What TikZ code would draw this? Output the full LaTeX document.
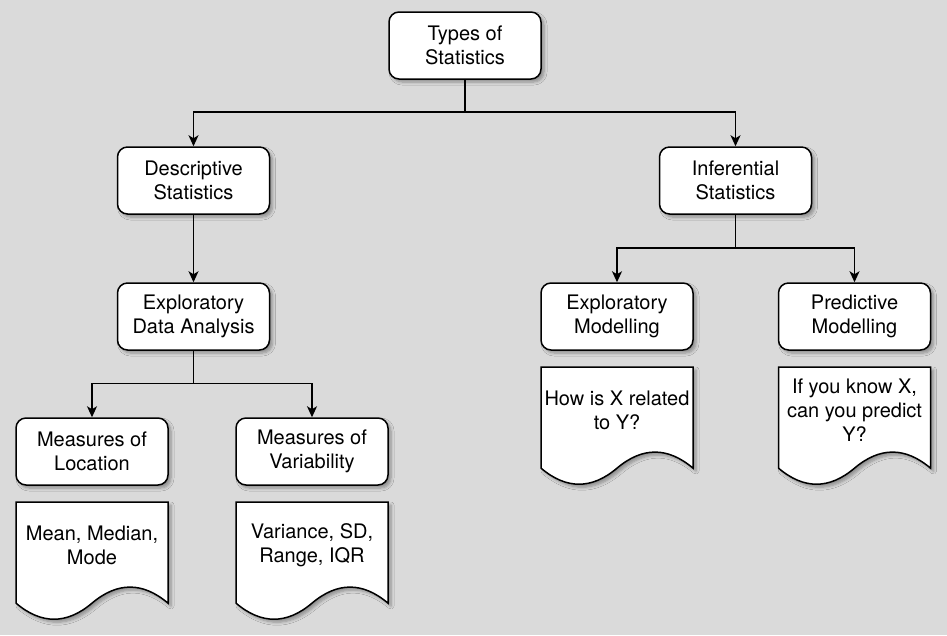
\documentclass[tikz,border=0pt]{standalone}
\usepackage{fontspec}
\setmainfont{TeX Gyre Heros}
\usetikzlibrary{arrows.meta,shadows.blur}
\definecolor{bg}{RGB}{218,218,218}
\tikzset{
  box/.style={draw, line width=1.5pt, rounded corners=10pt, fill=white,
    minimum width=152pt, minimum height=67pt, align=center,
    font=\fontsize{20}{24}\selectfont,
    blur shadow={shadow xshift=3pt, shadow yshift=-3pt, shadow opacity=35, shadow blur steps=6, shadow blur radius=3pt}},
  docpath/.style={draw, line width=1.5pt, fill=white,
    blur shadow={shadow xshift=3pt, shadow yshift=-3pt, shadow opacity=35, shadow blur steps=6, shadow blur radius=3pt}},
  doctext/.style={align=center, font=\fontsize{20}{24}\selectfont, inner sep=0pt},
  conn/.style={line width=1.5pt},
  arr/.style={line width=1.5pt, -{Stealth[length=11pt,width=10pt,inset=3pt]}}
}
\newcommand\docat[4]{%
  \begin{scope}[shift={(#2,#3)}]
    \path[docpath] (0,0) -- (152,0) -- (152,101.15)
      .. controls (126.67,79.73) and (101.33,79.73) .. (76,101.15)
      .. controls (50.67,122.57) and (25.33,122.57) .. (0,101.15) -- cycle;
    \node[doctext] (#1) at (76,43) {#4};
  \end{scope}}
\begin{document}
\begin{tikzpicture}[x=1pt,y=-1pt]
\fill[bg] (0,0) rectangle (947,635);
\useasboundingbox (0,0) rectangle (947,635);

\node[box] (t) at (465,45.5) {Types of\\Statistics};
\node[box] (ds) at (193.5,180.5) {Descriptive\\Statistics};
\node[box] (is) at (735.5,180.5) {Inferential\\Statistics};
\node[box] (eda) at (193.5,316.5) {Exploratory\\Data Analysis};
\node[box] (em) at (617,316.5) {Exploratory\\Modelling};
\node[box] (pm) at (854.5,316.5) {Predictive\\Modelling};
\node[box] (ml) at (92,451.5) {Measures of\\Location};
\node[box] (mv) at (312,451.5) {Measures of\\Variability};

\docat{dml}{16}{502}{Mean, Median,\\Mode}
\docat{dmv}{236}{502}{Variance, SD,\\Range, IQR}
\docat{dem}{541}{367}{How is X related\\to Y?}
\docat{dpm}{778.5}{367}{If you know X,\\can you predict\\Y?}

\coordinate (j1) at (465,112);
\coordinate (j2) at (735.5,248);
\coordinate (j3) at (193.5,383.5);

\draw[conn] (t.south) -- (j1);
\draw[arr] (j1) -| (ds.north);
\draw[arr] (j1) -| (is.north);
\draw[arr] (ds.south) -- (eda.north);
\draw[conn] (is.south) -- (j2);
\draw[arr] (j2) -| (em.north);
\draw[arr] (j2) -| (pm.north);
\draw[conn] (eda.south) -- (j3);
\draw[arr] (j3) -| (ml.north);
\draw[arr] (j3) -| (mv.north);
\end{tikzpicture}
\end{document}
